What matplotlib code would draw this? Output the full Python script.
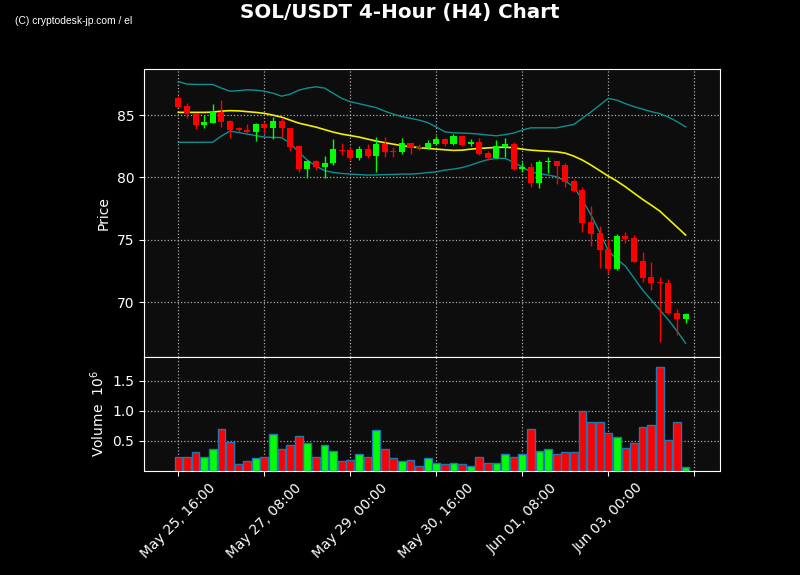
import matplotlib
matplotlib.use("Agg")
import matplotlib.pyplot as plt
import pandas as pd

title = "SOL/USDT 4-Hour (H4) Chart"
credit = "(C) cryptodesk-jp.com / el"

times = pd.date_range("2025-05-25 16:00", periods=60, freq="4h")

opens = [86.39, 85.72, 85.06, 84.20, 84.38, 85.26, 84.52, 83.93, 83.80, 83.66,
         84.25, 83.98, 84.52, 83.98, 82.54, 80.67, 81.31, 80.83, 81.15, 82.19,
         82.19, 81.55, 82.27, 81.71, 82.65, 82.11, 82.03, 82.75, 82.46, 82.33,
         82.67, 83.10, 82.67, 83.29, 82.67, 82.83, 81.98, 81.58, 82.45, 82.67,
         80.70, 80.81, 79.57, 81.21, 81.31, 80.99, 79.71, 78.99, 76.42, 75.51,
         74.25, 72.65, 75.32, 75.16, 73.29, 72.03, 71.63, 71.55, 69.10, 68.64]
highs = [86.52, 85.94, 85.10, 85.00, 85.86, 86.18, 84.57, 84.06, 84.25, 84.33,
         84.46, 84.86, 84.78, 84.00, 82.60, 81.39, 81.39, 81.69, 83.05, 82.73,
         82.46, 82.51, 82.65, 83.26, 83.26, 82.46, 83.13, 82.80, 82.67, 83.00,
         83.30, 83.18, 83.45, 83.40, 83.07, 83.13, 82.11, 83.00, 83.13, 82.81,
         81.26, 81.13, 81.39, 81.66, 81.31, 81.13, 79.84, 79.20, 77.70, 76.10,
         75.03, 75.46, 75.64, 75.35, 74.04, 73.19, 72.03, 71.82, 69.42, 69.10]
lows = [85.64, 84.74, 83.85, 83.98, 84.33, 84.06, 83.18, 83.66, 83.53, 82.91,
        83.53, 83.08, 83.26, 82.14, 80.45, 79.97, 80.59, 79.97, 80.99, 81.79,
        81.39, 81.37, 81.53, 80.40, 81.61, 81.61, 81.85, 81.85, 82.20, 82.25,
        82.60, 82.49, 82.60, 82.54, 82.49, 81.79, 81.39, 81.53, 81.66, 80.59,
        80.45, 79.20, 79.12, 80.32, 79.44, 79.20, 78.85, 75.59, 74.49, 72.71,
        72.31, 72.60, 74.71, 73.20, 71.63, 70.97, 66.77, 69.05, 67.36, 68.30]
closes = [85.67, 85.18, 84.22, 84.44, 85.22, 84.46, 83.80, 83.77, 83.64, 84.25,
          83.98, 84.52, 83.93, 82.46, 80.67, 81.31, 80.83, 81.17, 82.27, 82.11,
          81.55, 82.27, 81.71, 82.65, 82.03, 82.03, 82.75, 82.38, 82.33, 82.73,
          83.10, 82.67, 83.29, 82.60, 82.83, 81.87, 81.58, 82.51, 82.67, 80.67,
          80.81, 79.57, 81.23, 81.31, 80.93, 79.65, 78.93, 76.36, 75.46, 74.17,
          72.65, 75.32, 75.06, 73.24, 71.95, 71.55, 71.50, 69.10, 68.64, 69.04]
volumes = [0.24, 0.23, 0.31, 0.24, 0.37, 0.70, 0.49, 0.12, 0.16, 0.21,
           0.23, 0.62, 0.36, 0.43, 0.59, 0.47, 0.23, 0.44, 0.34, 0.16,
           0.19, 0.28, 0.24, 0.69, 0.36, 0.21, 0.16, 0.19, 0.08, 0.21,
           0.14, 0.11, 0.14, 0.11, 0.09, 0.23, 0.14, 0.14, 0.28, 0.23,
           0.29, 0.70, 0.34, 0.36, 0.29, 0.31, 0.31, 0.995, 0.82, 0.82,
           0.64, 0.56, 0.39, 0.47, 0.74, 0.77, 1.73, 0.51, 0.82, 0.06]

bb_mid = [85.22, 85.22, 85.22, 85.22, 85.24, 85.32, 85.36, 85.34, 85.28, 85.22,
          85.14, 85.00, 84.84, 84.60, 84.36, 84.20, 84.04, 83.84, 83.64, 83.48,
          83.36, 83.24, 83.08, 82.92, 82.79, 82.67, 82.55, 82.46, 82.39, 82.33,
          82.27, 82.22, 82.17, 82.19, 82.27, 82.33, 82.37, 82.41, 82.43, 82.38,
          82.27, 82.19, 82.14, 82.10, 82.06, 81.95, 81.71, 81.39, 80.99, 80.55,
          80.11, 79.71, 79.25, 78.74, 78.24, 77.78, 77.30, 76.66, 76.02, 75.38]
bb_upper = [87.69, 87.49, 87.46, 87.46, 87.46, 87.17, 86.92, 86.96, 87.03, 87.00,
            86.92, 86.76, 86.52, 86.68, 87.00, 87.17, 87.27, 87.17, 86.76, 86.34,
            86.08, 85.92, 85.76, 85.60, 85.32, 85.08, 84.88, 84.74, 84.60, 84.40,
            84.04, 83.66, 83.58, 83.56, 83.53, 83.48, 83.40, 83.34, 83.44, 83.56,
            83.80, 83.98, 83.98, 83.98, 83.98, 84.12, 84.25, 84.76, 85.26, 85.80,
            86.34, 86.20, 85.92, 85.68, 85.48, 85.28, 85.12, 84.84, 84.48, 84.06]
bb_lower = [82.82, 82.82, 82.82, 82.82, 82.83, 83.32, 83.72, 83.60, 83.48, 83.36,
            83.24, 83.21, 83.20, 82.75, 82.03, 81.39, 80.91, 80.55, 80.40, 80.32,
            80.27, 80.23, 80.19, 80.20, 80.23, 80.24, 80.27, 80.27, 80.31, 80.39,
            80.45, 80.59, 80.67, 80.79, 80.99, 81.23, 81.43, 81.53, 81.53, 81.23,
            80.83, 80.45, 80.31, 80.19, 80.05, 79.71, 79.25, 78.18, 76.98, 75.62,
            74.12, 73.45, 72.89, 71.93, 70.97, 70.17, 69.37, 68.57, 67.68, 66.70]

up_color = "#00ff00"
down_color = "#ff0000"
bg = "#0d0d0d"

fig = plt.figure(figsize=(8, 5.75), dpi=100, facecolor="black")
gs = fig.add_gridspec(2, 1, height_ratios=[288, 114], hspace=0,
                      left=0.18, right=0.9, top=0.88, bottom=0.181)
ax = fig.add_subplot(gs[0])
axv = fig.add_subplot(gs[1], sharex=ax)

x = list(range(len(times)))
colors = [up_color if c >= o else down_color for o, c in zip(opens, closes)]

# candles: wick first, body on top
for i in x:
    ax.vlines(i, lows[i], highs[i], color=colors[i], linewidth=1, zorder=3)
    bottom = min(opens[i], closes[i])
    height = max(abs(closes[i] - opens[i]), 0.06)
    ax.bar(i, height, bottom=bottom, width=0.7, color=colors[i], zorder=4)

ax.plot(x, bb_mid, color="#f0f000", linewidth=1.2, zorder=2)
ax.plot(x, bb_upper, color="#0f8f8f", linewidth=1, zorder=2)
ax.plot(x, bb_lower, color="#0f8f8f", linewidth=1, zorder=2)

axv.bar(x, volumes, width=0.9, color=colors, edgecolor="#1f77b4", linewidth=1, zorder=3)

for a in (ax, axv):
    a.set_facecolor(bg)
    a.grid(True, color="#aaaaaa", linestyle=":", linewidth=0.9, zorder=0)
    a.tick_params(colors="white", labelsize=10)
    for s in a.spines.values():
        s.set_color("white")

ax.set_xlim(-4, 63)
ax.set_ylim(65.6, 88.7)
ax.set_yticks([70, 75, 80, 85])
ax.set_ylabel("Price", color="white", fontsize=10)
ax.tick_params(axis="x", labelbottom=False)

axv.set_ylim(0, 1.9)
axv.set_yticks([0.5, 1.0, 1.5])
axv.set_ylabel(r"Volume  $10^6$", color="white", fontsize=10)

tick_pos = list(range(0, 61, 10))
tick_labels = [times[p].strftime("%b %d, %H:%M") if p < len(times) else "" for p in tick_pos]
axv.set_xticks(tick_pos)
axv.set_xticklabels(tick_labels, rotation=45)

fig.suptitle(title, color="white", fontsize=14.3, fontweight="bold", y=0.995)
fig.text(0.019, 0.958, credit, color="white", fontsize=7.4,
         family=["Liberation Sans Narrow", "Liberation Sans", "DejaVu Sans"])

plt.savefig("out.png", facecolor=fig.get_facecolor())
plt.close()
